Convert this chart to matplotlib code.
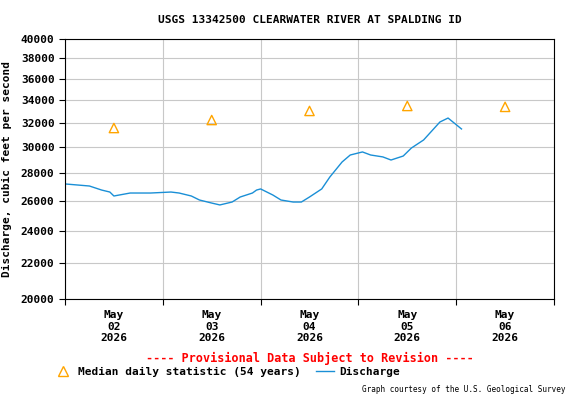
import matplotlib
matplotlib.use("Agg")
import matplotlib.pyplot as plt
import matplotlib.ticker as mt

hours = [0, 6, 9, 11, 12, 16, 21, 26, 28, 31, 33, 36, 38, 41, 43, 46, 47, 48, 51, 53, 56, 58, 60, 63, 65, 68, 70, 73, 75, 78, 80, 83, 85, 88, 90, 92, 94, 97.3]
flow = [27180, 27030, 26740, 26600, 26320, 26530, 26530, 26600, 26530, 26320, 26040, 25830, 25700, 25900, 26250, 26530, 26740, 26820, 26390, 26040, 25900, 25900, 26250, 26820, 27690, 28820, 29360, 29600, 29360, 29210, 28970, 29280, 29910, 30560, 31300, 32060, 32400, 31470]
med_hours = [12, 36, 60, 84, 108]
med_flow = [31550, 32230, 33020, 33460, 33380]
day_labels = ["May\n02\n2026", "May\n03\n2026", "May\n04\n2026", "May\n05\n2026", "May\n06\n2026"]
yticks = [20000, 22000, 24000, 26000, 28000, 30000, 32000, 34000, 36000, 38000, 40000]

plt.rcParams['font.family'] = ['DejaVu Sans Mono']
fig = plt.figure(figsize=(5.76, 4.0), dpi=100)
ax = fig.add_axes([65/576, 1-299/400, (554-65)/576, (299-39)/400])
ax.set_yscale('log')
ax.set_ylim(20000, 40000)
ax.set_xlim(0, 120)
ax.yaxis.set_major_locator(mt.FixedLocator(yticks))
ax.yaxis.set_minor_locator(mt.NullLocator())
ax.yaxis.set_major_formatter(mt.FixedFormatter([str(v) for v in yticks]))
ax.set_xticks([0, 24, 48, 72, 96, 120])
ax.set_xticklabels([])
ax.set_xticks(med_hours, minor=True)
ax.set_xticklabels(day_labels, minor=True, fontsize=8, fontweight='bold')
ax.tick_params(axis='x', which='minor', length=0, pad=8)
ax.tick_params(axis='x', which='major', length=4, direction='out')
ax.tick_params(axis='y', labelsize=8, length=4)
for l in ax.get_yticklabels():
    l.set_fontweight('bold')
ax.grid(True, which='major', color='#c8c8c8', lw=0.8)
ax.plot(hours, flow, color='#1a8fd6', lw=1)
ax.scatter(med_hours, med_flow, marker='^', s=45, facecolors='none', edgecolors='orange', lw=1, zorder=3)
ax.set_ylabel("Discharge, cubic feet per second", fontsize=8, fontweight='bold', labelpad=6)
fig.text(310/576, 1-20/400, "USGS 13342500 CLEARWATER RIVER AT SPALDING ID", ha='center', va='center', fontsize=8, fontweight='bold')
fig.text(310/576, 1-358/400, "---- Provisional Data Subject to Revision ----", ha='center', va='center', fontsize=8.5, fontweight='bold', color='red')
fig.lines.append(plt.Line2D([63/576], [1-371/400], marker='^', mfc='none', mec='orange', ms=7, transform=fig.transFigure))
fig.text(78/576, 1-372/400, "Median daily statistic (54 years)", va='center', fontsize=8, fontweight='bold')
fig.lines.append(plt.Line2D([316/576, 334/576], [1-371/400]*2, color='#1a8fd6', lw=1, transform=fig.transFigure))
fig.text(339/576, 1-372/400, "Discharge", va='center', fontsize=8, fontweight='bold')
fig.text(566/576, 1-390/400, "Graph courtesy of the U.S. Geological Survey", ha='right', va='center', fontsize=5.5)
fig.savefig("out.png", dpi=100)
